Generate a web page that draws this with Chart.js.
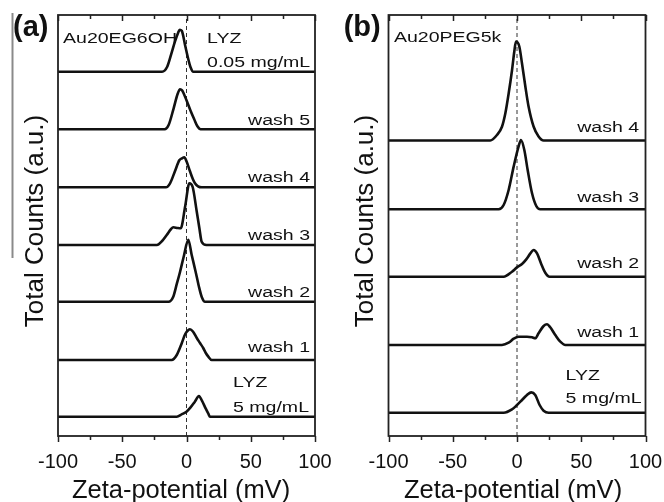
<!DOCTYPE html>
<html>
<head>
<meta charset="utf-8">
<script src="https://cdn.jsdelivr.net/npm/chart.js@4"></script>
<style>
html,body{margin:0;padding:0;background:#fff;}
#wrap{position:relative;width:664px;height:502px;overflow:hidden;}
.panel{position:absolute;top:0;width:332px;height:502px;}
</style>
</head>
<body>
<div id="wrap">
<div class="panel" style="left:0"><canvas id="chartA" width="332" height="502"></canvas></div>
<div class="panel" style="left:332px"><canvas id="chartB" width="332" height="502"></canvas></div>
</div>
<script>
const FONT = '"Liberation Sans", Arial, sans-serif';

// axis
const xTicks = [-100, -50, 0, 50, 100];
const xMinor = [-75, -25, 25, 75];
const yMax = 421;

// ---- panel (a) Au20EG6OH : [zeta (mV), counts (a.u.)] ----
const aLyz005 = [[-19,0],[-15,5],[-12,17],[-9,30],[-6.5,39],[-5.3,42],[-3.7,41],[-1,26],[1.5,12],[3,5],[5.3,0]];
const aWash5 = [[-17,0],[-14,4],[-10,21],[-7,35],[-5,40],[-3.5,39],[0,29],[3,19],[6,10],[8.5,3],[11,0]];
const aWash4 = [[-16,0],[-12.8,4],[-9,16],[-5.6,27],[-3.5,29],[-1.7,30],[0,26],[2.7,16],[5,8],[6.6,4],[9,1],[11.8,0]];
const aWash3 = [[-23,0],[-19,4],[-15.4,10],[-12,16],[-10.3,17.7],[-7,17],[-4.5,16.7],[-1,39],[2.2,61.7],[4.8,58],[7.9,34],[10,17],[11.8,3.3],[15.5,0]];
const aWash2 = [[-14,0],[-10.3,5],[-7.5,18],[-5,30],[-2,46],[1.4,62],[4,47],[7.1,30],[9.5,16],[11.8,5],[14.4,0]];
const aWash1 = [[-11.5,0],[-7.6,5],[-3.7,16.7],[-1,26],[1.5,30],[2.7,30.7],[5,28.5],[8,22],[10.5,17],[13,12],[15,7],[17,3.3],[19.6,0]];
const aLyz5 = [[-7.6,0],[-3.5,2.5],[0,5],[3,9],[6.5,15],[9.7,20.7],[12,16],[15,8],[17,3],[18.3,0]];
const aCurves = [aLyz005, aWash5, aWash4, aWash3, aWash2, aWash1, aLyz5];
const aOffsets = [364.3, 306.7, 248.7, 191, 134.3, 76, 19.3];

// ---- panel (b) Au20PEG5k ----
const bWash4 = [[-20.8,0],[-15.6,5.5],[-11.7,13.8],[-9.1,27],[-6.5,47],[-3.9,70],[-2.1,89],[-0.8,99],[1.8,94],[3.9,77],[6.5,54],[9,34],[12.9,14],[16.8,4],[20.7,0]];
const bWash3 = [[-14.3,0],[-10.4,4.3],[-6.5,19.3],[-2.6,42.7],[1.2,62.7],[3.1,69.3],[5.7,59.3],[8.3,39.3],[11.7,16],[15,3.3],[18.1,0]];
const bWash2 = [[-10.4,0],[-3.9,5],[0,9.3],[3.9,12.7],[7.2,17.3],[10.4,23.3],[12.9,26.7],[15.6,23.3],[18.7,13.3],[22,4],[25.4,0]];
const bWash1 = [[-11.7,0],[-6.5,2.3],[-2.6,6.3],[1.2,8.3],[7.8,8.3],[11.7,7.7],[14.2,6.7],[16.8,11.7],[20.7,19],[23.4,20.7],[25.9,17.7],[29.8,10],[33.7,3.3],[37.6,0]];
const bLyz5 = [[-10.4,0],[-3.9,3.3],[0,7.7],[3.9,12.7],[7.8,17.7],[11.1,20.3],[14.2,17.7],[17.6,7.7],[20.7,2],[24.6,0]];
const bCurves = [bWash4, bWash3, bWash2, bWash1, bLyz5];
const bOffsets = [295.5, 226.7, 159.3, 91, 23.3];

function makeSets(curves, offsets) {
  let sets = curves.map((c, i) => ({
    data: [[-100,0]].concat(c, [[100,0]]).map(p => ({x: p[0], y: p[1] + offsets[i]})),
    borderColor: '#111',
    borderWidth: 2.6,
    pointRadius: 0,
    fill: false,
    cubicInterpolationMode: 'monotone'
  }));
  // dashed line at 0 mV
  sets.push({
    data: [{x:0, y:0}, {x:0, y:yMax}],
    borderColor: '#333', borderWidth: 1, borderDash: [4,3], pointRadius: 0, order: 10
  });
  return sets;
}

function stretchText(ctx, txt, x, y, align) {
  const sx = 1.26;
  ctx.save();
  ctx.font = '15.5px ' + FONT;
  ctx.fillStyle = '#111';
  ctx.textBaseline = 'alphabetic';
  ctx.textAlign = 'left';
  let w = ctx.measureText(txt).width * sx;
  ctx.translate(align === 'right' ? x - w : x, y);
  ctx.scale(sx, 1);
  ctx.fillText(txt, 0, 0);
  ctx.restore();
}

function panelPlugin(cfg) {
  return {
    id: 'panel' + cfg.letter,
    beforeDatasetsDraw(chart) {
      const ctx = chart.ctx, xs = chart.scales.x, ys = chart.scales.y;
      cfg.labels.forEach(l => {
        stretchText(ctx, l[0], xs.getPixelForValue(l[1]), ys.getPixelForValue(l[2]), l[3]);
      });
    },
    afterDraw(chart) {
      const ctx = chart.ctx, a = chart.chartArea, xs = chart.scales.x;
      ctx.save();
      ctx.strokeStyle = '#222';
      ctx.lineWidth = 1.8;
      ctx.strokeRect(a.left, a.top, a.right - a.left, a.bottom - a.top);
      // ticks: bottom outward, top inward
      ctx.lineWidth = 1.5;
      xTicks.concat(xMinor).forEach(v => {
        let px = Math.round(xs.getPixelForValue(v)) + 0.5;
        let len = xTicks.includes(v) ? 6 : 4;
        ctx.beginPath();
        ctx.moveTo(px, a.bottom); ctx.lineTo(px, a.bottom + len);
        ctx.moveTo(px, a.top); ctx.lineTo(px, a.top + len);
        ctx.stroke();
      });
      ctx.fillStyle = '#111';
      // x title
      ctx.font = '25.5px ' + FONT;
      ctx.textAlign = 'center';
      ctx.textBaseline = 'alphabetic';
      ctx.fillText('Zeta-potential (mV)', 181, 498);
      // y title
      ctx.save();
      ctx.translate(cfg.yTitleX, 221);
      ctx.rotate(-Math.PI / 2);
      ctx.font = '26px ' + FONT;
      ctx.fillText('Total Counts (a.u.)', 0, 0);
      ctx.restore();
      // panel letter
      ctx.font = 'bold 29px ' + FONT;
      ctx.textAlign = 'left';
      ctx.fillText('(' + cfg.letter + ')', cfg.letterX, 35.5);
      if (cfg.artifact) {
        ctx.strokeStyle = '#8a8a8a';
        ctx.lineWidth = 2;
        ctx.beginPath();
        ctx.moveTo(12.5, 13); ctx.lineTo(12.5, 258);
        ctx.stroke();
      }
      ctx.restore();
    }
  };
}

function makeChart(id, curves, offsets, padL, padR, cfg) {
  return new Chart(document.getElementById(id), {
    type: 'line',
    data: { datasets: makeSets(curves, offsets) },
    options: {
      responsive: false,
      animation: false,
      layout: { padding: { left: padL, right: padR, top: 15, bottom: 0 } },
      plugins: { legend: { display: false }, tooltip: { enabled: false } },
      scales: {
        x: {
          type: 'linear', min: -100, max: 100,
          afterFit: s => { s.height = 66; s.paddingLeft = 0; s.paddingRight = 0; },
          afterBuildTicks: s => { s.ticks = xTicks.map(v => ({ value: v })); },
          grid: { display: false, drawTicks: false },
          border: { display: false },
          ticks: { font: { family: FONT, size: 20 }, color: '#111', padding: 14, maxRotation: 0 }
        },
        y: { type: 'linear', min: 0, max: yMax, display: false }
      }
    },
    plugins: [panelPlugin(cfg)]
  });
}

makeChart('chartA', aCurves, aOffsets, 58, 17, {
  letter: 'a', letterX: 13, yTitleX: 43, artifact: true,
  labels: [
    ['Au20EG6OH', -96.1, 393, 'left'],
    ['LYZ', 16, 393, 'left'],
    ['0.05 mg/mL', 16, 369.3, 'left'],
    ['wash 5', 96.1, 311, 'right'],
    ['wash 4', 96.1, 254, 'right'],
    ['wash 3', 96.1, 196, 'right'],
    ['wash 2', 96.1, 139.3, 'right'],
    ['wash 1', 96.1, 84.3, 'right'],
    ['LYZ', 36.2, 49.3, 'left'],
    ['5 mg/mL', 36.2, 24.3, 'left']
  ]
});

makeChart('chartB', bCurves, bOffsets, 56.5, 18.5, {
  letter: 'b', letterX: 11.7, yTitleX: 41.3, artifact: false,
  labels: [
    ['Au20PEG5k', -95.8, 394, 'left'],
    ['wash 4', 95, 304, 'right'],
    ['wash 3', 95, 234.3, 'right'],
    ['wash 2', 95, 167.7, 'right'],
    ['wash 1', 95, 99.3, 'right'],
    ['LYZ', 37.8, 56, 'left'],
    ['5 mg/mL', 37.8, 32.7, 'left']
  ]
});
</script>
</body>
</html>
